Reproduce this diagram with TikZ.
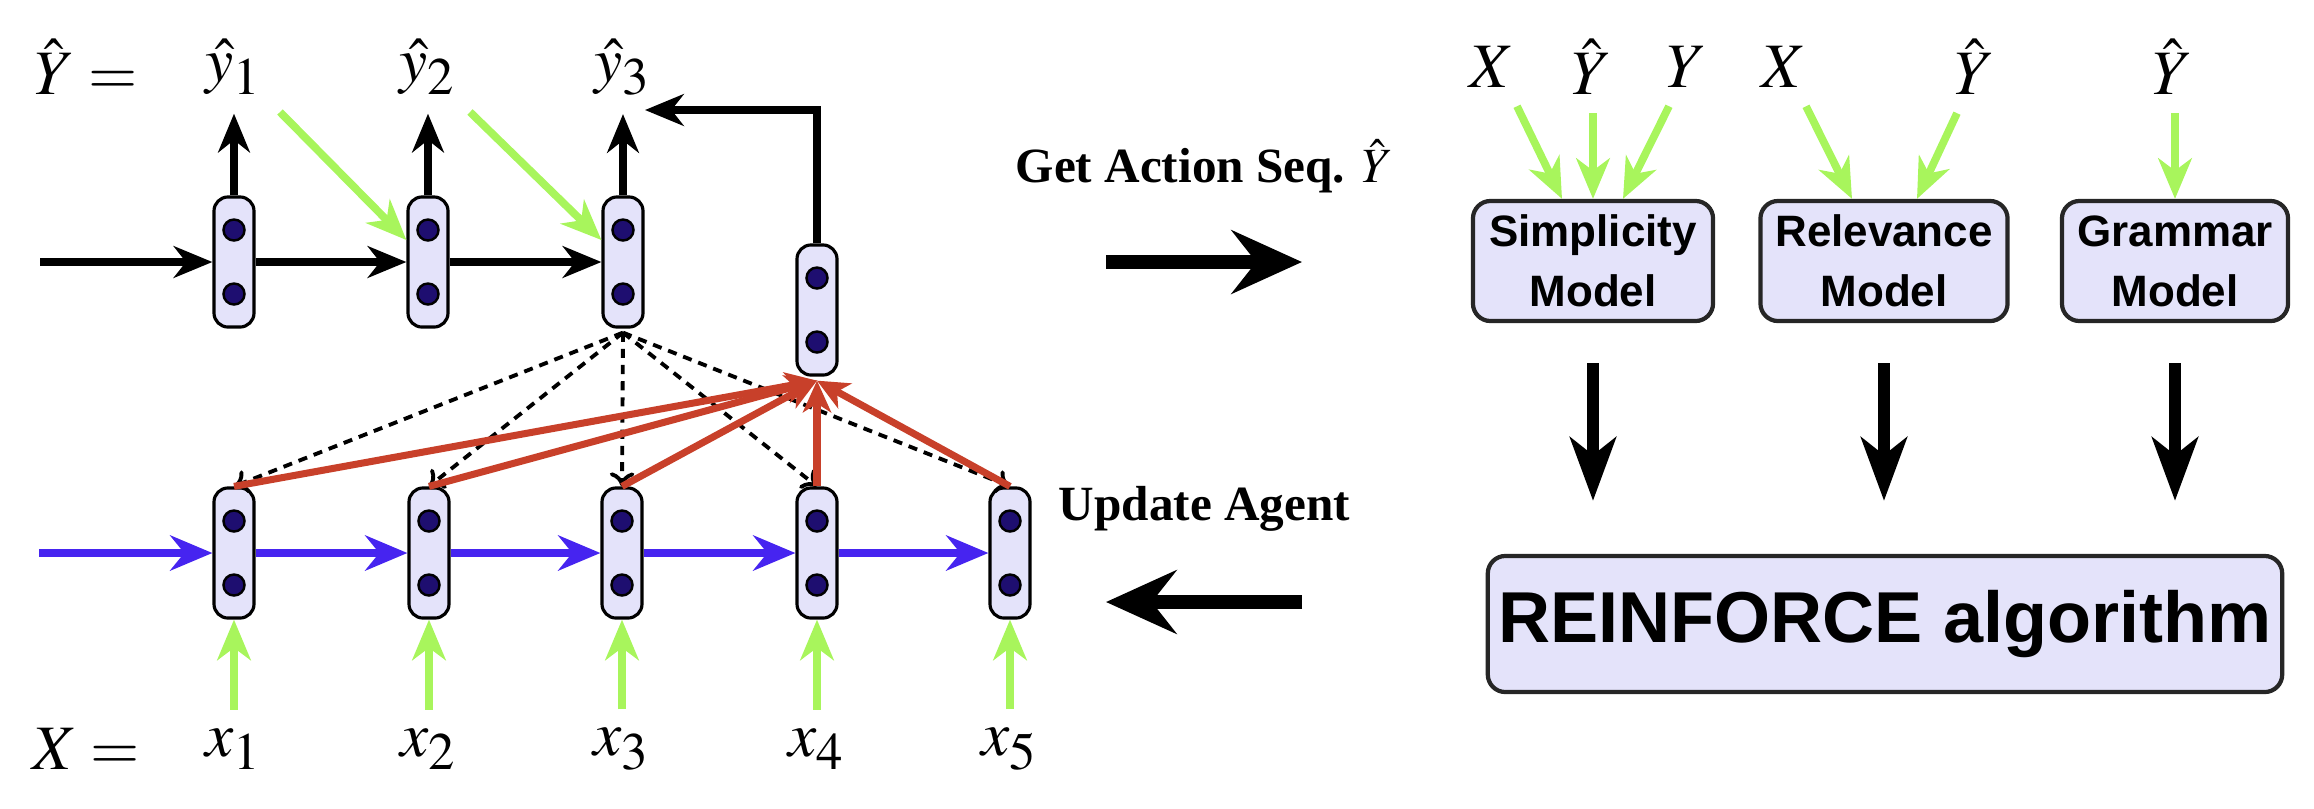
\documentclass[tikz,border=0pt]{standalone}
\usepackage{mathptmx}
\usepackage{fontspec}
\setmainfont{Liberation Serif}
\newfontfamily\hv{Liberation Sans}
\usetikzlibrary{arrows.meta,calc}
\DeclareMathSizes{18}{18}{15}{11}
\DeclareMathSizes{14}{14}{10}{7}
\definecolor{cellfill}{RGB}{228,227,250}
\definecolor{dotfill}{RGB}{30,14,112}
\definecolor{lgreen}{RGB}{168,245,92}
\definecolor{dblue}{RGB}{70,36,240}
\definecolor{dred}{RGB}{200,64,42}
\tikzset{
  cell/.style={draw=black, line width=0.9pt, fill=cellfill, rounded corners=4pt, minimum width=0.40cm, minimum height=1.30cm, inner sep=0pt},
  dotst/.style={draw=black, line width=0.7pt, fill=dotfill},
  lab/.style={inner sep=0pt, font=\fontsize{18}{22}\selectfont},
  blk/.style={line width=2pt, -{Stealth[length=11pt,width=9pt,inset=3.5pt]}},
  blu/.style={dblue, line width=2.5pt, -{Stealth[length=12pt,width=10pt,inset=4pt]}},
  grn/.style={lgreen, line width=2.2pt, -{Stealth[length=11.5pt,width=9.5pt,inset=3.5pt]}},
  redarr/.style={dred, line width=2pt, -{Stealth[length=9pt,width=8pt,inset=2.5pt]}},
  dsh/.style={line width=1.1pt, dash pattern=on 2.6pt off 2pt, -{To[length=4pt,width=7pt]}},
  big/.style={line width=4.2pt, -{Stealth[length=20pt,width=18pt,inset=7pt]}},
  bigdown/.style={line width=3.5pt, -{Stealth[length=18pt,width=13pt,inset=5pt]}},
  box/.style={draw=black!85, line width=1.2pt, fill=cellfill, rounded corners=5pt, align=center, font=\hv\fontsize{12.5}{17}\selectfont\bfseries, inner sep=0pt, minimum height=1.20cm},
  txt/.style={anchor=base west, inner sep=0pt, font=\fontsize{14}{16}\selectfont\bfseries}
}
\newcommand\rnncell[3]{%
  \node[cell] (#1) at (#2,#3) {};
  \draw[dotst] ($(#1.center)+(0,-32)$) circle[radius=0.105cm];
  \draw[dotst] ($(#1.center)+(0,32)$) circle[radius=0.105cm];
}
\begin{document}
\begin{tikzpicture}[x=0.01cm,y=-0.01cm]
\useasboundingbox (0,0) rectangle (2314,808);
% ---------- labels left
\node[lab] (Yeq) at (86,67) {$\hat{Y}=$};
\node[lab] (yh1) at (234,67) {$\hat{y}_1$};
\node[lab] (yh2) at (428,67) {$\hat{y}_2$};
\node[lab] (yh3) at (623,67) {$\hat{y}_3$};
\node[lab] (Xeq) at (86,749) {$X=$};
\node[lab] (x1) at (234,749) {$x_1$};
\node[lab] (x2) at (429,749) {$x_2$};
\node[lab] (x3) at (622,749) {$x_3$};
\node[lab] (x4) at (817,749) {$x_4$};
\node[lab] (x5) at (1010,749) {$x_5$};
% ---------- cells
\rnncell{t1}{234}{262}
\rnncell{t2}{428}{262}
\rnncell{t3}{623}{262}
\rnncell{att}{817}{310}
\rnncell{b1}{234}{553}
\rnncell{b2}{429}{553}
\rnncell{b3}{622}{553}
\rnncell{b4}{817}{553}
\rnncell{b5}{1010}{553}
% ---------- top chain
\coordinate (tin) at (40,262);
\draw[blk] (tin) -- (t1.west);
\draw[blk] (t1.east) -- (t2.west);
\draw[blk] (t2.east) -- (t3.west);
\draw[blk] (t1.north) -- ($(yh1.south)+(0,18)$);
\draw[blk] (t2.north) -- ($(yh2.south)+(0,18)$);
\draw[blk] (t3.north) -- ($(yh3.south)+(0,18)$);
\coordinate (g1) at (280,112);
\coordinate (g2) at (470,112);
\draw[grn] (g1) -- ($(t2.west)+(0,-22)$);
\draw[grn] (g2) -- ($(t3.west)+(0,-22)$);
\coordinate (fb) at (645,110);
\draw[blk] (att.north) |- (fb);
% ---------- attention
\foreach \b in {b1,b2,b3,b4,b5} \draw[dsh] ($(t3.south)+(0,4)$) -- (\b.north);
\foreach \b in {b1,b2,b3,b4,b5} \draw[redarr] (\b.north) -- ($(att.south)+(0,4)$);
% ---------- bottom chain
\coordinate (bin) at (39,553);
\draw[blu] (bin) -- (b1.west);
\draw[blu] (b1.east) -- (b2.west);
\draw[blu] (b2.east) -- (b3.west);
\draw[blu] (b3.east) -- (b4.west);
\draw[blu] (b4.east) -- (b5.west);
\foreach \i in {1,...,5} \draw[grn] ($(x\i.north)+(0,-18)$) -- (b\i.south);
% ---------- middle
\node[txt] (get) at (1015,182) {Get Action Seq. $\hat{Y}$};
\node[txt] (upd) at (1058,520) {Update Agent};
\coordinate (ra1) at (1106,262);
\coordinate (ra2) at (1302,262);
\draw[big] (ra1) -- (ra2);
\coordinate (la1) at (1302,602);
\coordinate (la2) at (1106,602);
\draw[big] (la1) -- (la2);
% ---------- right
\node[lab] (rX1) at (1492,67) {$X$};
\node[lab] (rYh1) at (1592,67) {$\hat{Y}$};
\node[lab] (rY1) at (1687,67) {$Y$};
\node[lab] (rX2) at (1784,67) {$X$};
\node[lab] (rYh2) at (1975,67) {$\hat{Y}$};
\node[lab] (rYh3) at (2173,67) {$\hat{Y}$};
\node[box, minimum width=2.40cm] (simp) at (1593,261) {Simplicity\\Model};
\node[box, minimum width=2.47cm] (rel) at (1884,261) {Relevance\\Model};
\node[box, minimum width=2.26cm] (gram) at (2175,261) {Grammar\\Model};
\node[box, minimum width=7.94cm, minimum height=1.36cm, font=\hv\fontsize{20.5}{24}\selectfont\bfseries] (rf) at (1885,624) {REINFORCE algorithm};
\draw[grn] ($(rX1.south)+(25,18)$) -- ($(simp.north)+(-31,0)$);
\draw[grn] ($(rYh1.south)+(1,18)$) -- ($(simp.north)+(0,0)$);
\draw[grn] ($(rY1.south)+(-18,18)$) -- ($(simp.north)+(30,0)$);
\draw[grn] ($(rX2.south)+(22,18)$) -- ($(rel.north)+(-32,0)$);
\draw[grn] ($(rYh2.south)+(-18,18)$) -- ($(rel.north)+(33,0)$);
\draw[grn] ($(rYh3.south)+(2,18)$) -- ($(gram.north)+(0,0)$);
\draw[bigdown] ($(simp.south)+(0,40)$) -- ($(simp.south |- rf.north)+(0,-53)$);
\draw[bigdown] ($(rel.south)+(0,40)$) -- ($(rel.south |- rf.north)+(0,-53)$);
\draw[bigdown] ($(gram.south)+(0,40)$) -- ($(gram.south |- rf.north)+(0,-53)$);
\end{tikzpicture}
\end{document}
